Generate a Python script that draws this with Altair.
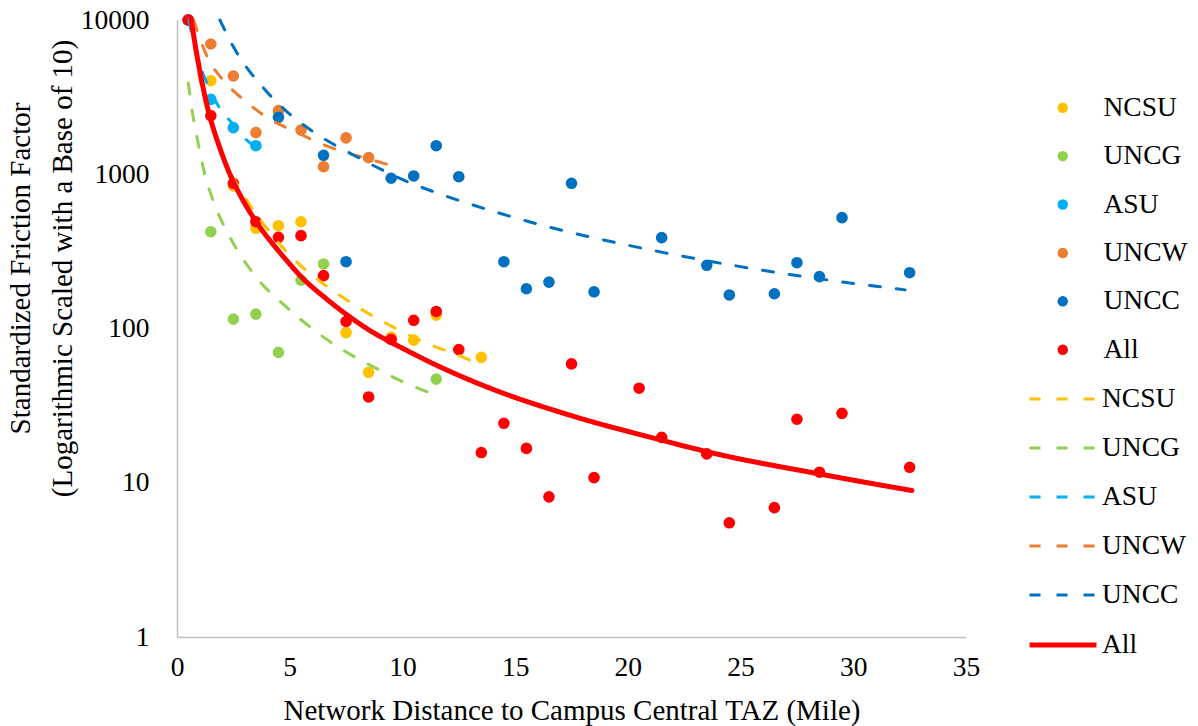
import altair as alt
import pandas as pd

series_names = ["NCSU", "UNCG", "ASU", "UNCW", "UNCC", "All"]
series_colors = ["#FFC000", "#92D050", "#00B0F0", "#ED7D31", "#0070C0", "#FF0000"]
trend_names = [n + "-trend" for n in series_names]

ncsu_x = [0.5, 1.5, 2.5, 3.5, 4.5, 5.5, 7.5, 8.5, 9.5, 10.5, 11.5, 13.5]
ncsu_y = [10000, 4040, 839, 446, 464, 492, 94, 52, 88, 84, 122, 65]

uncg_x = [0.5, 1.5, 2.5, 3.5, 4.5, 5.5, 6.5, 11.5]
uncg_y = [10000, 424, 115, 124, 70, 206, 262, 47]

asu_x = [0.5, 1.5, 2.5, 3.5]
asu_y = [10000, 3060, 2004, 1531]

uncw_x = [0.5, 1.5, 2.5, 3.5, 4.5, 5.5, 6.5, 7.5, 8.5]
uncw_y = [10000, 6990, 4335, 1862, 2583, 1936, 1119, 1722, 1282]

uncc_x = [0.5, 4.5, 6.5, 7.5, 9.5, 10.5, 11.5, 12.5, 14.5, 15.5, 16.5, 17.5,
          18.5, 21.5, 23.5, 24.5, 26.5, 27.5, 28.5, 29.5, 32.5]
uncc_y = [10000, 2340, 1327, 271, 942, 975, 1531, 964, 271, 181, 200, 874,
          173, 388, 257, 165, 168, 267, 217, 523, 230]

all_x = [0.5, 1.5, 2.5, 3.5, 4.5, 5.5, 6.5, 7.5, 8.5, 9.5, 10.5, 11.5, 12.5,
         13.5, 14.5, 15.5, 16.5, 17.5, 18.5, 20.5, 21.5, 23.5, 24.5, 26.5,
         27.5, 28.5, 29.5, 32.5]
all_y = [10000, 2400, 874, 492, 390, 400, 220, 111, 36, 85, 113, 129, 73,
         15.7, 24.3, 16.7, 8.1, 59, 10.8, 41, 19.7, 15.4, 5.5, 6.9,
         25.8, 11.7, 28.2, 12.6]

# ---- fitted trend lines ----
ncsu_tx = [0.6, 1.0, 1.5, 1.95, 2.99, 3.87, 4.69, 5.5, 6.49, 7.53, 8.71, 9.89, 11.08, 12.26, 13.4]
ncsu_ty = [10000, 4300, 2200, 1410, 716, 469, 335, 255, 195, 153, 120, 97, 80, 69, 59]

uncg_tx = [0.5, 0.72, 0.95, 1.24, 1.61, 2.28, 2.94, 3.68, 4.57, 5.6, 6.64, 7.68, 8.86, 10.04, 11.5]
uncg_ty = [3900, 2330, 1560, 990, 670, 408, 280, 201, 150, 111, 85, 68, 55, 45, 37]

asu_tx = [0.52, 0.8, 1.36, 2.0, 2.5, 2.84, 3.5]
asu_ty = [10000, 6500, 3800, 2550, 2100, 1810, 1500]

uncw_tx = [0.74, 0.92, 1.36, 2.17, 3.06, 4.13, 5.31, 6.49, 7.68, 8.86, 9.5]
uncw_ty = [10000, 8300, 5700, 3900, 2950, 2270, 1870, 1555, 1360, 1215, 1140]

uncc_tx = [1.9, 2.5, 3.98, 4.87, 5.9, 8.12, 10.34, 11.67, 14.03, 16.25, 19.95, 23.8, 27.34, 32.3]
uncc_ty = [10000, 6710, 3430, 2550, 1950, 1265, 880, 745, 575, 465, 348, 270, 222, 178]

all_tx = [0.63, 0.84, 1.06, 1.29, 1.58, 1.88, 2.32, 2.91, 3.54, 4.57, 5.6, 6.64,
          7.56, 8.56, 10.04, 11.6, 13.89, 17.58, 21.6, 23.5, 28.5, 32.6]
all_ty = [10000, 6450, 4300, 2960, 2050, 1510, 1020, 684, 485, 310, 210, 155,
          122, 97, 74, 57, 41, 27, 18.7, 15.9, 11.4, 8.9]

x_ticks = [0, 5, 10, 15, 20, 25, 30, 35]
y_ticks = [1, 10, 100, 1000, 10000]

point_sets = [(ncsu_x, ncsu_y), (uncg_x, uncg_y), (asu_x, asu_y),
              (uncw_x, uncw_y), (uncc_x, uncc_y), (all_x, all_y)]
trend_sets = [(ncsu_tx, ncsu_ty), (uncg_tx, uncg_ty), (asu_tx, asu_ty),
              (uncw_tx, uncw_ty), (uncc_tx, uncc_ty), (all_tx, all_ty)]

prow = []
for name, (xs, ys) in zip(series_names, point_sets):
    for x, y in zip(xs, ys):
        prow.append({"x": x, "y": y, "series": name})
points = pd.DataFrame(prow)

trow = []
for name, (xs, ys) in zip(trend_names, trend_sets):
    for x, y in zip(xs, ys):
        trow.append({"x": x, "y": y, "trend": name})
trends = pd.DataFrame(trow)

FONT = "Liberation Serif"

x_enc = alt.X("x:Q",
              scale=alt.Scale(domain=[0, 35], nice=False),
              axis=alt.Axis(values=x_ticks, title="Network Distance to Campus Central TAZ (Mile)",
                            labelFlush=False,
                            labelPadding=16, titlePadding=16, titleFontSize=29))
y_enc = alt.Y("y:Q",
              scale=alt.Scale(type="log", domain=[1, 10000], nice=False),
              axis=alt.Axis(values=y_ticks, format="d",
                            title=["Standardized Friction Factor",
                                   "(Logarithmic Scaled with a Base of 10)"],
                            labelPadding=28, titleFontSize=29, titleLineHeight=42,
                            titleX=-157, titleY=248, titleAngle=270,
                            titleAlign="center", titleBaseline="middle"))

leg1 = alt.Legend(orient="none", legendX=850, legendY=74, symbolType="circle",
                  symbolSize=110, symbolOffset=22, labelOffset=27, rowPadding=19.4,
                  symbolStrokeWidth=0)
leg2 = alt.Legend(orient="none", legendX=850, legendY=344, symbolType="stroke",
                  symbolSize=4480, labelOffset=3, rowPadding=0,
                  labelExpr="split(datum.label, '-')[0]")

pts = alt.Chart(points).mark_circle(size=135, opacity=1).encode(
    x=x_enc, y=y_enc,
    fill=alt.Fill("series:N", title=None,
                  scale=alt.Scale(domain=series_names, range=series_colors),
                  legend=leg1),
)

lines = alt.Chart(trends).mark_line(strokeCap="round", interpolate="monotone").encode(
    x=x_enc, y=y_enc,
    stroke=alt.Stroke("trend:N", title=None,
                      scale=alt.Scale(domain=trend_names, range=series_colors),
                      legend=leg2),
    strokeDash=alt.StrokeDash("trend:N", title=None,
                              scale=alt.Scale(domain=trend_names,
                                              range=[[11, 16]] * 5 + [[1, 0]]),
                              legend=leg2),
    strokeWidth=alt.StrokeWidth("trend:N", title=None,
                                scale=alt.Scale(type="ordinal", domain=trend_names,
                                                range=[3, 3, 3, 3, 3, 5]),
                                legend=leg2),
)

chart = alt.layer(pts, lines).properties(
    width=789, height=617,
    autosize=alt.AutoSizeParams(type="none"),
    padding={"left": 177, "top": 20, "right": 232, "bottom": 89},
    background="white",
).configure_view(stroke=None).configure_axis(
    domainColor="#BFBFBF", domainWidth=1.5, ticks=False, grid=False,
    labelFont=FONT, labelFontSize=27.5, labelColor="black",
    titleFont=FONT, titleFontWeight="normal", titleColor="black",
).configure_legend(
    labelFont=FONT, labelFontSize=27.5, labelColor="black",
)

chart.save("out.html", embed_options={"renderer": "svg", "actions": False})
